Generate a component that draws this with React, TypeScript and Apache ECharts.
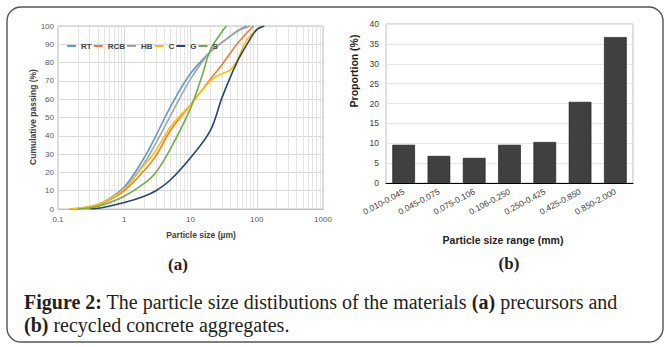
import React, { useEffect, useRef } from "react";
import * as echarts from "echarts";

// ---- Data (a): cumulative passing (%) vs particle size (µm)
const seriesNames = ["RT", "RCB", "HB", "C", "G", "S"];
const seriesColors = ["#5B9BD5", "#ED7D31", "#A5A5A5", "#FFC000", "#264478", "#70AD47"];
const rtData = [[0.15, 0], [0.3, 1], [0.5, 4], [1, 12], [2, 28], [3, 40], [5, 56], [10, 74], [20, 86], [30, 91], [50, 97], [70, 100]];
const rcbData = [[0.15, 0], [0.3, 1], [0.5, 3.5], [1, 10], [2, 21], [3, 29], [5, 43], [10, 57], [20, 71], [30, 79], [50, 90], [70, 96], [90, 100]];
const hbData = [[0.15, 0], [0.3, 1], [0.5, 3.5], [1, 11], [2, 25], [3, 36], [5, 51], [10, 71], [20, 86], [30, 91], [50, 97], [80, 100]];
const cData = [[0.15, 0], [0.3, 1.5], [0.5, 4], [1, 11], [2, 24], [3, 32], [5, 45], [10, 57], [20, 70], [30, 74], [40, 76], [50, 81], [70, 92], [100, 98], [120, 100]];
const gData = [[0.3, 0], [0.5, 1], [1, 3.5], [2, 7], [3, 10], [5, 16], [10, 28], [20, 43], [30, 61], [50, 80], [80, 93], [100, 98], [130, 100]];
const sData = [[0.2, 0], [0.3, 0.5], [0.5, 2.5], [1, 7], [2, 14], [3, 20], [5, 33], [10, 55], [15, 73], [20, 87], [30, 97], [35, 100]];
const minorSizes = [0.2, 0.3, 0.4, 0.5, 0.6, 0.7, 0.8, 0.9, 2, 3, 4, 5, 6, 7, 8, 9, 20, 30, 40, 50, 60, 70, 80, 90, 200, 300, 400, 500, 600, 700, 800, 900];

// ---- Data (b): proportion (%) per particle size range (mm)
const rangeCategories = ["0.010-0.045", "0.045-0.075", "0.075-0.106", "0.106-0.250", "0.250-0.425", "0.425-0.850", "0.850-2.000"];
const rangeProportions = [9.6, 6.8, 6.3, 9.6, 10.3, 20.4, 36.7];

const curveData = [rtData, rcbData, hbData, cData, gData, sData];

const sans = "'Liberation Sans', Arial, sans-serif";
const serif = "'Liberation Serif', 'Times New Roman', serif";

export default function App() {
  const ref = useRef<HTMLDivElement>(null);
  useEffect(() => {
    document.body.style.margin = "0";
    const chart = echarts.init(ref.current!, null, { renderer: "svg" });
    const lineSeries = seriesNames.map((name, i) => ({
      name,
      type: "line",
      xAxisIndex: 0,
      yAxisIndex: 0,
      data: curveData[i],
      smooth: 0.35,
      showSymbol: false,
      symbol: "none",
      z: 10,
      lineStyle: { color: seriesColors[i], width: 1.6 },
      itemStyle: { color: seriesColors[i] },
    }));
    chart.setOption({
      animation: false,
      backgroundColor: "#ffffff",
      grid: [
        { left: 58, top: 26, width: 265, height: 183, show: true, borderColor: "#bfbfbf", borderWidth: 1, backgroundColor: "transparent" },
        { left: 386, top: 24, width: 247, height: 159, show: true, borderColor: "#bfbfbf", borderWidth: 1, backgroundColor: "transparent" },
      ],
      legend: {
        data: seriesNames,
        left: 62,
        top: 37,
        icon: "rect",
        itemWidth: 9,
        itemHeight: 2,
        itemGap: 2,
        z: 12,
        textStyle: { fontFamily: sans, fontSize: 8, fontWeight: "bold", color: "#404040" },
      },
      xAxis: [
        {
          type: "log",
          gridIndex: 0,
          logBase: 10,
          min: 0.1,
          max: 1000,
          axisLine: { show: true, lineStyle: { color: "#bfbfbf" } },
          axisTick: { show: false },
          axisLabel: { fontFamily: sans, fontSize: 8, color: "#595959", margin: 6, formatter: (v: number) => String(v) },
          splitLine: { show: true, lineStyle: { color: "#d9d9d9", width: 1 } },
        },
        {
          type: "category",
          gridIndex: 1,
          data: rangeCategories,
          axisLine: { show: true, lineStyle: { color: "#000000", width: 1 } },
          axisTick: { show: false },
          axisLabel: { fontFamily: sans, fontSize: 8.5, color: "#404040", rotate: 28, margin: 8, interval: 0 },
          splitLine: { show: false },
        },
      ],
      yAxis: [
        {
          type: "value",
          gridIndex: 0,
          min: 0,
          max: 100,
          interval: 10,
          axisLine: { show: false },
          axisTick: { show: false },
          axisLabel: { fontFamily: sans, fontSize: 8, color: "#595959", margin: 4 },
          splitLine: { show: true, lineStyle: { color: "#d9d9d9", width: 1 } },
        },
        {
          type: "value",
          gridIndex: 1,
          min: 0,
          max: 40,
          interval: 5,
          axisLine: { show: false },
          axisTick: { show: false },
          axisLabel: { fontFamily: sans, fontSize: 8.5, color: "#404040", margin: 7 },
          splitLine: { show: true, lineStyle: { color: "#e6e6e6", width: 1 } },
        },
      ],
      series: [
        {
          name: "minor-grid",
          type: "line",
          xAxisIndex: 0,
          yAxisIndex: 0,
          data: [],
          z: 1,
          silent: true,
          markLine: {
            silent: true,
            z: 1,
            symbol: ["none", "none"],
            label: { show: false },
            lineStyle: { color: "#e4e4e4", width: 1, type: "solid" },
            data: minorSizes.map((v) => ({ xAxis: v })),
          },
        },
        ...lineSeries,
        {
          name: "Proportion",
          type: "bar",
          xAxisIndex: 1,
          yAxisIndex: 1,
          data: rangeProportions,
          barCategoryGap: "36%",
          itemStyle: { color: "#404040", borderColor: "#111111", borderWidth: 0.6 },
        },
      ],
      graphic: [
        {
          type: "rect",
          shape: { x: 7, y: 7, width: 656, height: 335, r: 14 },
          style: { fill: "none", stroke: "#555555", lineWidth: 1.4 },
          z: 0,
        },
        {
          type: "text",
          x: 33,
          y: 117,
          rotation: Math.PI / 2,
          style: { text: "Cumulative passing (%)", fontFamily: sans, fontSize: 8.5, fontWeight: "bold", fill: "#404040", align: "center", verticalAlign: "middle" },
        },
        {
          type: "text",
          x: 201,
          y: 235,
          style: { text: "Particle size (µm)", fontFamily: sans, fontSize: 8.5, fontWeight: "bold", fill: "#404040", align: "center", verticalAlign: "middle" },
        },
        {
          type: "text",
          x: 178,
          y: 264,
          style: { text: "(a)", fontFamily: serif, fontSize: 17, fontWeight: "bold", fill: "#231f20", align: "center", verticalAlign: "middle" },
        },
        {
          type: "text",
          x: 354,
          y: 71,
          rotation: Math.PI / 2,
          style: { text: "Proportion (%)", fontFamily: sans, fontSize: 10.5, fontWeight: "bold", fill: "#222222", align: "center", verticalAlign: "middle" },
        },
        {
          type: "text",
          x: 503,
          y: 240,
          style: { text: "Particle size range (mm)", fontFamily: sans, fontSize: 10.5, fontWeight: "bold", fill: "#222222", align: "center", verticalAlign: "middle" },
        },
        {
          type: "text",
          x: 509,
          y: 263,
          style: { text: "(b)", fontFamily: serif, fontSize: 17, fontWeight: "bold", fill: "#231f20", align: "center", verticalAlign: "middle" },
        },
        {
          type: "text",
          x: 24,
          y: 302,
          style: {
            text: "{b|Figure 2:} The particle size distibutions of the materials {b|(a)} precursors and",
            fontFamily: serif,
            fontSize: 20,
            fill: "#231f20",
            verticalAlign: "middle",
            rich: { b: { fontFamily: serif, fontSize: 20, fontWeight: "bold", fill: "#231f20" } },
          },
        },
        {
          type: "text",
          x: 24,
          y: 325,
          style: {
            text: "{b|(b)} recycled concrete aggregates.",
            fontFamily: serif,
            fontSize: 20,
            fill: "#231f20",
            verticalAlign: "middle",
            rich: { b: { fontFamily: serif, fontSize: 20, fontWeight: "bold", fill: "#231f20" } },
          },
        },
      ],
    });
    return () => chart.dispose();
  }, []);
  return <div ref={ref} style={{ width: 667, height: 347 }} />;
}
